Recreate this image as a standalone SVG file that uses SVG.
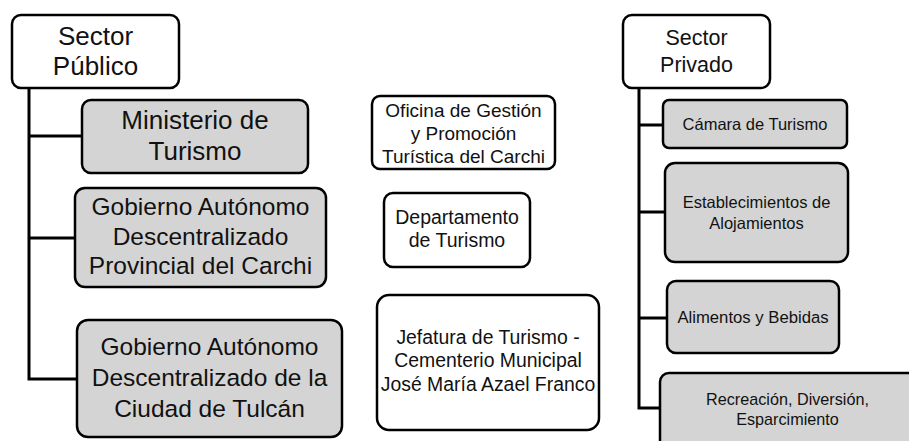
<svg xmlns="http://www.w3.org/2000/svg" width="909" height="441" viewBox="0 0 909 441">
<style>
.box{stroke:#000;stroke-width:2.5;}
.w{fill:#fff;}
.g{fill:#d4d4d4;}
text{font-family:"Liberation Sans",Arial,sans-serif;fill:#111;text-anchor:middle;}
.conn{stroke:#000;stroke-width:3;fill:none;}
</style>
<rect width="909" height="441" fill="#fff"/>
<g id="connectors">
<path class="conn" d="M29 88V379H77M29 136H82M29 238H75"/>
<path class="conn" d="M639 88V408H660M639 125H663M639 212H665M639 318H667"/>
</g>
<g id="sector-publico">
<rect class="box w" x="12" y="15" width="167" height="73" rx="9"/>
<text x="95.5" y="45" font-size="26">Sector</text>
<text x="95.5" y="75" font-size="26">Público</text>
</g>
<g id="ministerio">
<rect class="box g" x="82" y="100" width="226" height="73" rx="9"/>
<text x="195" y="129" font-size="26">Ministerio de</text>
<text x="195" y="160" font-size="26">Turismo</text>
</g>
<g id="gad-provincial">
<rect class="box g" x="75" y="188" width="251" height="99" rx="10"/>
<text x="200.5" y="215" font-size="24.5">Gobierno Autónomo</text>
<text x="200.5" y="245" font-size="24.5">Descentralizado</text>
<text x="200.5" y="274" font-size="24.5">Provincial del Carchi</text>
</g>
<g id="gad-tulcan">
<rect class="box g" x="77" y="320" width="265" height="117" rx="11"/>
<text x="209.5" y="355" font-size="24.5">Gobierno Autónomo</text>
<text x="209.5" y="386" font-size="24.5">Descentralizado de la</text>
<text x="209.5" y="417" font-size="24.5">Ciudad de Tulcán</text>
</g>
<g id="oficina">
<rect class="box w" x="372" y="96" width="183" height="73" rx="8"/>
<text x="463.5" y="117" font-size="19">Oficina de Gestión</text>
<text x="463.5" y="140" font-size="19">y Promoción</text>
<text x="463.5" y="163" font-size="19">Turística del Carchi</text>
</g>
<g id="departamento">
<rect class="box w" x="384" y="193" width="146" height="74" rx="9"/>
<text x="457" y="224" font-size="19.5">Departamento</text>
<text x="457" y="247" font-size="19.5">de Turismo</text>
</g>
<g id="jefatura">
<rect class="box w" x="377" y="295" width="222" height="135" rx="12"/>
<text x="488" y="344" font-size="19.4">Jefatura de Turismo -</text>
<text x="488" y="367" font-size="19.4">Cementerio Municipal</text>
<text x="488" y="391" font-size="19.4">José María Azael Franco</text>
</g>
<g id="sector-privado">
<rect class="box w" x="623" y="15" width="147" height="73" rx="9"/>
<text x="696.5" y="45" font-size="21.5">Sector</text>
<text x="696.5" y="72" font-size="21.5">Privado</text>
</g>
<g id="camara">
<rect class="box g" x="663" y="100" width="184" height="48" rx="6"/>
<text x="755" y="130" font-size="16.5">Cámara de Turismo</text>
</g>
<g id="establecimientos">
<rect class="box g" x="665" y="163" width="183" height="99" rx="10"/>
<text x="756.5" y="208" font-size="16.5">Establecimientos de</text>
<text x="756.5" y="229" font-size="16.5">Alojamientos</text>
</g>
<g id="alimentos">
<rect class="box g" x="667" y="281" width="172" height="72" rx="9"/>
<text x="753" y="323" font-size="16.7">Alimentos y Bebidas</text>
</g>
<g id="recreacion">
<rect class="box g" x="660" y="373" width="260" height="80" rx="9"/>
<text x="787.5" y="405" font-size="16.2">Recreación, Diversión,</text>
<text x="787.5" y="425" font-size="16.2">Esparcimiento</text>
</g>
</svg>
